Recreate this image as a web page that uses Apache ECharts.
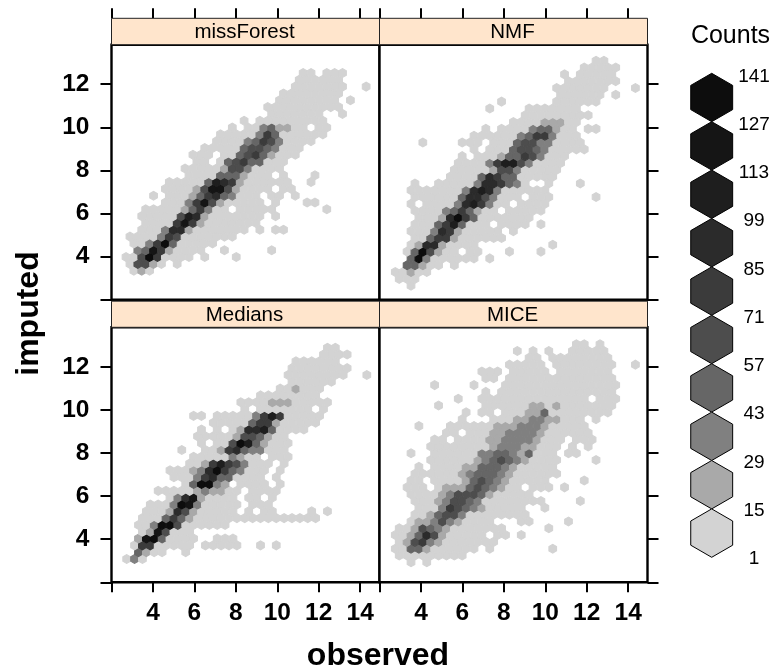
<!DOCTYPE html>
<html>
<head>
<meta charset="utf-8">
<style>html,body{margin:0;padding:0;background:#fff}#c{width:773px;height:672px}</style>
<script src="https://cdn.jsdelivr.net/npm/echarts@6/dist/echarts.min.js"></script>
</head>
<body>
<div id="c"></div>
<script>
// Hexbin cells, one string per hex row (bottom to top): "startColumn:levels", level 0-9 = legend band
const missForestRows = ["1:010","0:04410 6:0","0:004950000 10:0 14:0","1:238510000 12:0 18:0","1:00259300000","0:00002540000000","2:00026610000000 17:0 19:00","2:000058510000000","2:0000047610000000 19:0","2:00000135200 14:00000 25:0","5:0002584100000 19:0 23:00","3:0 5:000135632000 18:00 21:0","5:00001488410000 20:00","5:0000037651000000 23:0","8:00003331000 20:0 24:0","7:0000014420000","9:00 12:034533000","8:000 12:0034531000","10:0000034432000","11:0000235420000","12:00000253000000","13:0 15:00231100 24:00","15:0 17:000000000","18:0000000 27:0","18:0000000000","19:00000000 28:0","20:00000000","21:0000000 30:0","22:000000","22:00 25:000"];
const nmfRows = ["2:0","0:000","0:00100","1:33100 7:0","2:392000000 12:0","1:0394100 9:00 14:0 18:0","2:016610000 20:0","2:003551000000","2:000265100000 15:0","2:0003573000 13:0000 18:0","3:000169530000000","2:00002353100 14:00000","2:0 4:00002675200 16:0000","2:00000036642000 17:000 25:0","2:000000026762000000","2:0 5:000002665320 19:0 23:0","7:00003653300000","7:00000144200000","8:00002577420000","8:0 10:000133542000","10:0 12:0003443200000","3:0 8:000 12:000344220000","10:00000023552000","11:0 13:0000233100 24:00","15:000011100","16:000000000","12:0 17:0000000","13:0 20:000000","21:000000 28:0","20:0000000 30:0","22:0000000","21:0 23:00000","24:00000","25:00"];
const mediansRows = ["0:020","1:3100 7:0","1:05500000 10:00000 17:0 19:0","1:1893000 8:0 11:000","2:0184000","1:002994000000","2:00035310000000000000000","2:000164100000 15:0 17:00 23:0 25:0","3:000298200000 16:000","5:026810000 15:00 18:0","4:00000121100 16:000 19:0","7:039921 14:0000 19:0","6:000256330000 19:0","5:0001269532000 19:0","8:00157542000 20:0","8:000002100 18:000","7:0 10:00156322000","9:0 11:0049731000","9:000001443100","9:0 11:0 13:0166730000","11:00000355100000","8:00 11:00000257500000","15:0 17:0000000 25:0","14:000011100000","17:00000000","19:001000","21:000000","20:0000000 27:0 30:0","21:00000000","21:000000","25:0000","25:00"];
const miceRows = ["2:0 4:0","0:000000000","0:00331000000 12:0 20:0","0:0145210000000","0:001364100000 13:00 16:0","0:00143210000000 19:0","2:01124210000 16:00 22:0","2:001344200000000","3:00025432100000 19:0","2:00012443200000000 23:0","2:0000124443100000","1:000 5:01113432100 17:000 21:0","2:00 5:000013432100000 24:0","2:0000001233321000000","3:0 5:0000113332100000","4:00000012343210000 25:0","2:0 5:0000002233213000 22:00","4:00000000122211000 22:0 24:0","5:00 8:00001122221000 23:000","6:00 9:0001122221000000","3:0 7:000000111222100000","8:0 12:000112211000 25:0","9:0 11:00 14:00011300000000","5:0 11:00 13:000011010000000","8:0 11:00 13:000000000000 26:000","11:0 13:000000000000000","5:0 10:0 14:000000000000000","11:00 14:00000000000000","11:000 15:00000 21:0000000","14:00000 20:00000000 30:0","17:00 20:00000000","15:0 17:0 19:0 22:00000","23:00 26:0"];

const panelNames = ["missForest","NMF","Medians","MICE"];
const legendCounts = [141,127,113,99,85,71,57,43,29,15,1];
const levelColors = ["#D3D3D3","#A9A9A9","#808080","#666666","#4D4D4D","#3B3B3B","#2B2B2B","#1E1E1E","#151515","#0D0D0D"];
const yTicks = [2,4,6,8,10,12];
const yLabels = [4,6,8,10,12];
const xTicks = [2,4,6,8,10,12,14];
const xLabels = [4,6,8,10,12,14];

const FONT = "Liberation Sans";
const hexDx = 0.38, hexDy = 0.3163;
const panels = [
  {rows: missForestRows, x0: 2.70, y0: 3.347, left: 111.5, top: 44.7, stripTop: 18.3},
  {rows: nmfRows,        x0: 2.761, y0: 2.651, left: 379.5, top: 44.7, stripTop: 18.3},
  {rows: mediansRows,    x0: 2.732, y0: 3.081, left: 111.5, top: 327.3, stripTop: 301.2},
  {rows: miceRows,       x0: 2.761, y0: 2.927, left: 379.5, top: 327.3, stripTop: 301.2}
];
const W = 268, H = 255;

function cells(p) {
  const out = [];
  p.rows.forEach((row, n) => {
    row.split(" ").forEach(seg => {
      const [start, levels] = seg.split(":");
      [...levels].forEach((ch, k) => {
        if (ch === ".") return;
        const c = +start + k;
        out.push([p.x0 + (c + (n % 2) / 2) * hexDx, p.y0 + n * hexDy, +ch]);
      });
    });
  });
  return out;
}
function hexPts(cx, cy, r) {
  const pts = [];
  for (let i = 0; i < 6; i++) {
    const a = Math.PI / 3 * i + Math.PI / 6;
    pts.push([cx + r * Math.cos(a), cy + r * Math.sin(a)]);
  }
  return pts;
}
const renderHex = (params, api) => {
  const c = api.coord([api.value(0), api.value(1)]);
  const w = api.size([hexDx, 0])[0];
  const col = levelColors[api.value(2)];
  return {type: "polygon", shape: {points: hexPts(c[0], c[1], 0.97 * w / Math.sqrt(3))},
    style: {fill: col, stroke: col, lineWidth: 1.1}};
};

const grids = [], xAxes = [], yAxes = [], series = [], graphics = [];
const lineStyle = {color: "#000", width: 2};
panels.forEach((p, i) => {
  grids.push({left: p.left, top: p.top, width: W, height: H, show: true, borderColor: "#000", borderWidth: 2.4, backgroundColor: "#fff"});
  const isTop = i < 2, isLeft = i % 2 === 0;
  xAxes.push({gridIndex: i, type: "value", min: 2, max: 2 + W / 20.72, position: isTop ? "top" : "bottom",
    offset: isTop ? p.top - p.stripTop : 0,
    axisLine: {show: false}, splitLine: {show: false},
    axisTick: {show: true, length: 10, lineStyle, customValues: xTicks},
    axisLabel: {show: !isTop, margin: 18, fontFamily: FONT, fontWeight: "bold", fontSize: 24.5, color: "#000", customValues: xLabels, formatter: v => String(v)}});
  yAxes.push({gridIndex: i, type: "value", min: 2, max: 2 + H / 21.55, position: isLeft ? "left" : "right",
    axisLine: {show: false}, splitLine: {show: false},
    axisTick: {show: true, length: 11, lineStyle, customValues: yTicks},
    axisLabel: {show: isLeft, margin: 22, fontFamily: FONT, fontWeight: "bold", fontSize: 24.5, color: "#000", customValues: yLabels, formatter: v => String(v)}});
  series.push({type: "custom", name: panelNames[i], xAxisIndex: i, yAxisIndex: i, coordinateSystem: "cartesian2d",
    data: cells(p), encode: {x: 0, y: 1}, renderItem: renderHex, clip: false, silent: true, animation: false});
  graphics.push({type: "rect", shape: {x: p.left, y: p.stripTop, width: W, height: p.top - p.stripTop},
    style: {fill: "#FFE5CC", stroke: "#222", lineWidth: 1}, z: 10});
  graphics.push({type: "text", x: p.left + W / 2 - 1, y: (p.stripTop + p.top) / 2 + 1, z: 11,
    style: {text: panelNames[i], font: "20.5px '" + FONT + "'", fill: "#000", textAlign: "center", textVerticalAlign: "middle"}});
});

// Legend
const legCx = 711.7, legTop = 73.3, legStep = 48.4, legR = 24.2;
levelColors.forEach((col, i) => {
  const lvl = levelColors.length - 1 - i;
  const cy = legTop + legR + i * legStep;
  graphics.push({type: "polygon", shape: {points: hexPts(legCx, cy, legR)},
    style: {fill: levelColors[lvl], stroke: "#000", lineWidth: 1}, z: 10});
});
legendCounts.forEach((v, i) => {
  graphics.push({type: "text", x: 754, y: 76.5 + i * 48.25, z: 11,
    style: {text: String(v), font: "19px '" + FONT + "'", fill: "#000", textAlign: "center", textVerticalAlign: "middle"}});
});
graphics.push({type: "text", x: 730.5, y: 36.5, z: 11,
  style: {text: "Counts", font: "25px '" + FONT + "'", fill: "#000", textAlign: "center", textVerticalAlign: "middle"}});
graphics.push({type: "text", x: 378, y: 656, z: 11,
  style: {text: "observed", font: "bold 32px '" + FONT + "'", fill: "#000", textAlign: "center", textVerticalAlign: "middle"}});
graphics.push({type: "text", x: 29, y: 313.5, rotation: Math.PI / 2, z: 11,
  style: {text: "imputed", font: "bold 32px '" + FONT + "'", fill: "#000", textAlign: "center", textVerticalAlign: "middle"}});

const chart = echarts.init(document.getElementById("c"), null, {renderer: "canvas"});
chart.setOption({animation: false, backgroundColor: "#fff", grid: grids, xAxis: xAxes, yAxis: yAxes, series, graphic: graphics});
</script>
</body>
</html>
